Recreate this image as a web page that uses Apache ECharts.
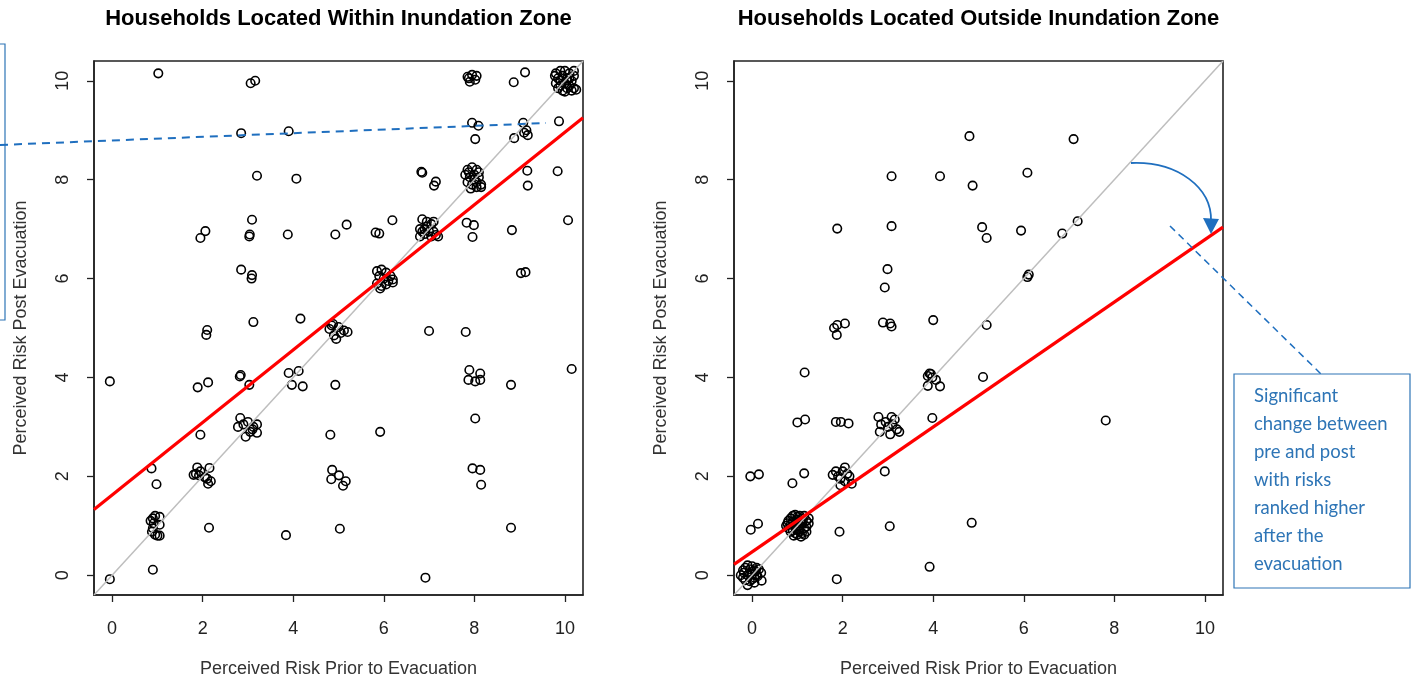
<!DOCTYPE html>
<html><head><meta charset="utf-8">
<script src="https://cdn.jsdelivr.net/npm/echarts@6/dist/echarts.min.js"></script>
<style>html,body{margin:0;padding:0;background:#fff}#c{width:1411px;height:681px}</style>
</head><body><div id="c"></div>
<script>
const tickValues = [0, 2, 4, 6, 8, 10];
const axisRange = [-0.4, 10.4];
const titles = ['Households Located Within Inundation Zone', 'Households Located Outside Inundation Zone'];
const xName = 'Perceived Risk Prior to Evacuation';
const yName = 'Perceived Risk Post Evacuation';

// Households within inundation zone: [prior, post]
const withinPoints = [
  [1.02,10.15],[3.06,9.95],[3.16,10.0],[2.85,8.94],[3.90,8.98],
  [7.85,10.08],[7.95,10.12],[8.05,10.1],[7.9,9.98],[8.02,10.02],[7.88,10.05],
  [8.87,9.97],[9.12,10.17],[7.95,9.15],[8.09,9.09],[8.02,8.82],
  [9.08,9.15],[8.88,8.84],[9.1,8.95],[9.18,8.9],[9.15,9.0],[9.87,9.18],
  [3.2,8.08],[4.07,8.02],[6.83,8.16],[6.85,8.14],[7.15,7.96],[7.11,7.88],
  [9.17,8.18],[9.18,7.88],[9.84,8.17],
  [3.09,7.19],[2.06,6.96],[1.95,6.82],[3.04,6.89],[3.03,6.85],
  [3.88,6.89],[4.93,6.89],[5.18,7.09],[5.82,6.93],[5.90,6.91],[6.19,7.18],
  [7.83,7.13],[7.99,7.08],[7.96,6.84],[8.83,6.98],[10.07,7.18],
  [2.85,6.18],[3.09,6.07],[3.08,6.0],[9.03,6.11],[9.13,6.13],
  [3.12,5.12],[4.16,5.19],[2.1,4.96],[2.08,4.86],[7.0,4.94],[7.81,4.92],
  [-0.05,3.92],[-0.05,-0.08],[0.9,0.11],[0.87,2.16],[0.98,1.84],
  [0.85,1.1],[0.9,1.15],[0.95,1.2],[1.05,1.18],[0.92,1.05],[1.05,1.02],[0.9,0.95],[0.95,0.82],[1.0,0.8],[1.05,0.8],[0.88,0.88],
  [1.89,3.8],[2.12,3.9],[1.95,2.84],
  [1.8,2.03],[1.85,2.05],[1.95,2.1],[1.88,2.18],[2.15,2.17],[2.1,1.95],[2.18,1.9],[2.12,1.85],[2.05,1.98],[1.92,2.02],
  [2.14,0.96],[2.82,4.02],[2.84,4.05],[3.03,3.85],
  [2.83,3.18],[2.78,3.0],[2.9,3.05],[3.0,3.1],[3.1,2.95],[3.2,3.05],[3.2,2.88],[2.95,2.8],[3.05,2.9],[3.12,3.0],
  [3.9,4.09],[4.12,4.13],[3.97,3.85],[4.21,3.82],[3.84,0.81],[4.93,3.85],[4.82,2.84],
  [4.86,2.13],[4.84,1.94],[5.01,2.02],[5.16,1.9],[5.1,1.81],[5.03,0.94],[5.92,2.9],[6.92,-0.05],
  [7.89,4.15],[8.13,4.08],[7.87,3.95],[8.02,3.92],[8.13,3.95],[8.02,3.17],
  [7.96,2.16],[8.13,2.13],[8.15,1.83],[8.81,3.85],[8.81,0.96],[10.15,4.17],
  [4.8,4.98],[4.85,5.05],[4.9,4.85],[4.95,4.78],[5.0,5.02],[5.05,4.9],[5.12,4.95],[5.2,4.92],[4.88,5.08],
  [5.85,6.15],[5.95,6.18],[6.05,6.12],[5.9,6.05],[6.0,6.0],[5.85,5.9],[5.95,5.85],[6.1,5.95],[6.2,5.92],[6.15,6.05],[5.92,5.8],[6.05,5.88],[6.2,5.98],
  [6.85,7.2],[6.95,7.15],[7.05,7.1],[6.8,7.0],[6.9,7.0],[7.0,6.95],[7.1,6.95],[6.8,6.85],[6.9,6.9],[7.05,6.85],[7.15,6.88],[6.95,7.05],[7.1,7.15],[6.85,6.95],[7.2,6.85],
  [7.85,8.2],[7.95,8.25],[8.05,8.2],[8.1,8.15],[7.8,8.1],[7.9,8.05],[8.0,8.1],[8.1,8.05],[7.85,7.95],[7.95,7.9],[8.05,7.95],[8.15,7.9],[7.92,7.82],[8.05,7.85],[8.15,7.85],[8.0,8.0],[7.88,8.15],
  [9.8,10.15],[9.9,10.2],[10.0,10.2],[10.1,10.15],[10.2,10.1],[9.85,10.05],[9.95,10.1],[10.05,10.05],[10.15,10.0],[9.8,9.95],[9.9,9.9],[10.0,9.95],[10.1,9.9],[10.2,9.85],[9.85,9.85],[9.95,9.8],[10.05,9.85],[10.15,9.8],[10.25,9.82],[10.05,10.0],[9.9,10.0],[10.2,10.2],[10.0,9.78],[9.78,10.1],[10.1,10.05]
];

// Households outside inundation zone: [prior, post]
const outsidePoints = [
  [4.8,8.88],[7.1,8.82],[3.08,8.07],[4.15,8.07],[4.87,7.88],[6.08,8.14],
  [1.88,7.01],[3.08,7.06],[5.08,7.04],[5.18,6.82],[5.94,6.97],[6.85,6.91],[7.19,7.16],
  [2.99,6.19],[2.93,5.82],[6.11,6.08],[6.08,6.03],
  [1.81,5.0],[1.88,5.06],[2.05,5.09],[1.87,4.86],[2.89,5.11],[3.05,5.09],[3.08,5.03],[4.0,5.16],[5.18,5.06],
  [1.16,4.1],
  [3.88,4.03],[3.95,4.07],[4.06,3.95],[3.88,3.83],[4.15,3.82],[3.98,4.0],[3.92,4.08],
  [5.1,4.01],[1.0,3.09],[1.17,3.15],[1.85,3.1],[1.96,3.1],[2.13,3.07],[3.98,3.18],
  [2.79,3.2],[2.85,3.05],[2.95,3.1],[3.08,3.2],[3.1,3.05],[3.2,2.95],[3.25,2.9],[2.82,2.9],[3.05,2.85],[3.0,3.0],[3.15,3.15],
  [7.81,3.13],[2.93,2.1],[-0.04,2.0],[0.15,2.04],[0.89,1.86],[1.15,2.06],
  [1.78,2.03],[1.85,2.1],[2.05,2.18],[2.1,2.05],[2.2,1.85],[1.95,1.95],[2.05,1.9],[2.15,2.0],[1.9,2.0],[2.0,2.1],[1.95,1.82],
  [-0.03,0.92],[0.13,1.04],
  [0.75,1.0],[0.8,1.1],[0.85,1.15],[0.9,1.2],[0.95,1.22],[1.0,1.18],[1.05,1.2],[1.1,1.15],[1.15,1.2],[1.2,1.1],[1.25,1.05],
  [0.8,0.95],[0.85,1.02],[0.9,1.08],[0.95,0.98],[1.0,1.05],[1.05,1.0],[1.1,1.05],[1.15,0.95],[1.2,0.98],
  [0.85,0.88],[0.9,0.9],[0.95,0.85],[1.0,0.82],[1.05,0.88],[1.1,0.85],[1.15,0.82],[1.2,0.88],[0.92,0.8],[1.02,0.92],
  [1.08,0.78],[0.78,1.05],[1.25,1.15],[0.98,1.12],[1.12,1.1],
  [1.93,0.88],[3.04,0.99],[4.85,1.06],[3.92,0.17],[1.87,-0.08],
  [-0.2,0.1],[-0.15,0.15],[-0.1,0.2],[-0.05,0.12],[0.0,0.18],[0.05,0.1],[0.1,0.15],[0.15,0.12],[0.2,0.05],
  [-0.25,0.0],[-0.2,-0.05],[-0.1,0.0],[0.0,0.02],[0.05,-0.05],[0.1,0.0],[-0.15,-0.1],[-0.05,-0.12],
  [0.05,-0.15],[-0.1,-0.2],[0.0,-0.08],[0.12,-0.02],[-0.18,0.05],[0.08,0.08],[0.21,-0.11]
];

// Reference line y = x and fitted regression lines (endpoints at plot edges)
const identityLine = [[-0.4,-0.4],[10.4,10.4]];
const withinFit = [[-0.4,1.33],[10.4,9.25]];
const outsideFit = [[-0.4,0.22],[10.4,7.04]];

const noteLines = ['Significant', 'change between', 'pre and post', 'with risks', 'ranked higher', 'after the', 'evacuation'];

const FONT = 'Liberation Sans, Arial, sans-serif';
const grids = [
  {left: 94, top: 61, width: 489, height: 534},
  {left: 734, top: 61, width: 489, height: 534}
];
function xAx(i){return {type:'value', gridIndex:i, min:axisRange[0], max:axisRange[1],
  name:xName, nameLocation:'middle', nameGap:65, nameTextStyle:{fontFamily:FONT,fontSize:18,color:'#333'},
  axisLine:{show:true,onZero:false,lineStyle:{color:'#222',width:1.5}},
  axisTick:{show:true,length:7,customValues:tickValues,lineStyle:{color:'#222',width:1.3}},
  axisLabel:{customValues:tickValues,margin:25,fontFamily:FONT,fontSize:18,color:'#222'},
  splitLine:{show:false}};}
function yAx(i){return {type:'value', gridIndex:i, min:axisRange[0], max:axisRange[1],
  name:yName, nameLocation:'middle', nameGap:64, nameTextStyle:{fontFamily:FONT,fontSize:18,color:'#333'},
  axisLine:{show:true,onZero:false,lineStyle:{color:'#222',width:1.5}},
  axisTick:{show:true,length:7,customValues:tickValues,lineStyle:{color:'#222',width:1.3}},
  axisLabel:{customValues:tickValues,rotate:90,margin:22,fontFamily:FONT,fontSize:18,color:'#222'},
  splitLine:{show:false}};}

function pts(i,data){return {type:'scatter',xAxisIndex:i,yAxisIndex:i,data:data,symbol:'circle',symbolSize:8.5,
  itemStyle:{color:'rgba(0,0,0,0)',borderColor:'#000',borderWidth:1.6,opacity:1},z:2,silent:true};}
function ln(i,data,color,w){return {type:'line',xAxisIndex:i,yAxisIndex:i,data:data,symbol:'none',
  lineStyle:{color:color,width:w},z:3,silent:true,clip:true};}

const chart = echarts.init(document.getElementById('c'), null, {renderer:'canvas'});
chart.setOption({
  animation:false, backgroundColor:'#fff',
  title: titles.map((t,i)=>({text:t, left: grids[i].left + grids[i].width/2 - 5, top:3, textAlign:'center',
    textStyle:{fontFamily:FONT,fontSize:22,fontWeight:'bold',color:'#000'}})),
  grid: grids.map(g=>Object.assign({show:true,containLabel:false,outerBoundsMode:'none',borderColor:'#222',borderWidth:1.6,backgroundColor:'transparent'},g)),
  xAxis:[xAx(0),xAx(1)], yAxis:[yAx(0),yAx(1)],
  series:[
    pts(0,withinPoints), pts(1,outsidePoints),
    ln(0,identityLine,'#bebebe',1.5), ln(1,identityLine,'#bebebe',1.5),
    ln(0,withinFit,'#ff0000',3.2), ln(1,outsideFit,'#ff0000',3.2)
  ],
  graphic:[
    {type:'rect',shape:{x:-10,y:44,width:15,height:276},style:{stroke:'#2E75B6',fill:'none',lineWidth:1.2},z:10},
    {type:'line',shape:{x1:0,y1:145,x2:546,y2:123},style:{stroke:'#1F6FBF',lineWidth:2,lineDash:[8,6]},z:10},
    {type:'bezierCurve',shape:{x1:1131,y1:163,cpx1:1178,cpy1:161,cpx2:1212,cpy2:188,x2:1211,y2:221},style:{stroke:'#1F6FBF',lineWidth:1.8,fill:'none'},z:10},
    {type:'polygon',shape:{points:[[1203,218],[1219,219],[1211,234]]},style:{fill:'#1F6FBF'},z:10},
    {type:'line',shape:{x1:1170,y1:226,x2:1321,y2:374},style:{stroke:'#1F6FBF',lineWidth:1.5,lineDash:[7,5]},z:10},
    {type:'rect',shape:{x:1234,y:374,width:176,height:214},style:{stroke:'#2E75B6',fill:'#fff',lineWidth:1.2},z:10},
    {type:'text',x:1254,y:382,style:{text:noteLines.join('\n'),font:'18.5px Lato, sans-serif',fill:'#2E75B6',lineHeight:28,verticalAlign:'top'},z:11}
  ]
});
</script></body></html>
